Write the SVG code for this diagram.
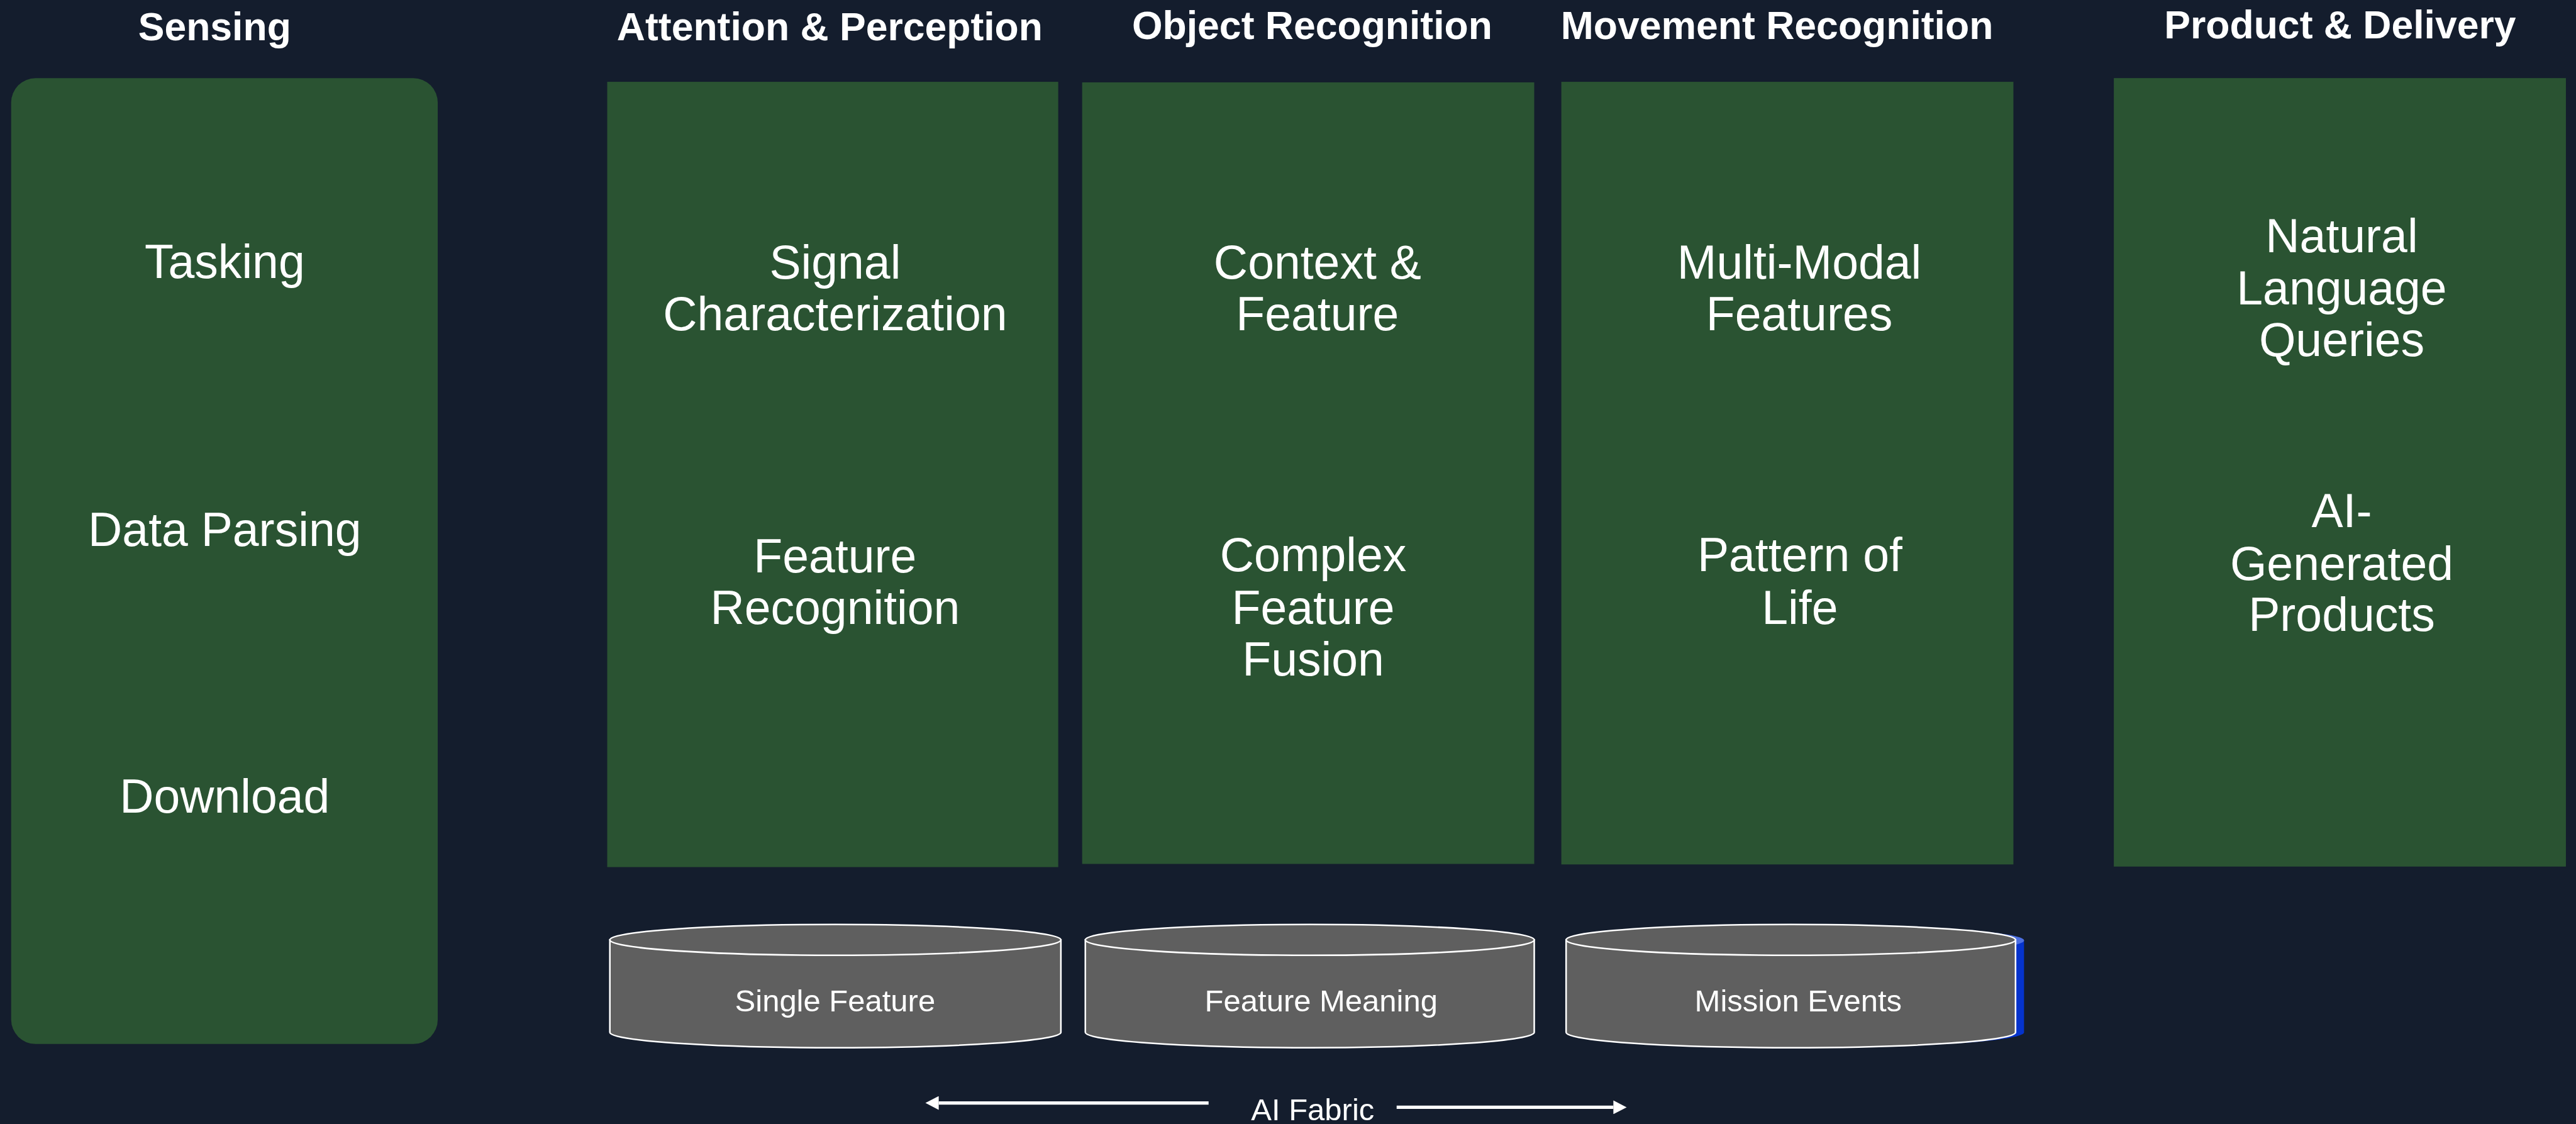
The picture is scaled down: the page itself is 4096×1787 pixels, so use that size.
<svg xmlns="http://www.w3.org/2000/svg" width="4096" height="1787" viewBox="0 0 4096 1787">
  <defs>
    <style>
      .bg { fill: #141d2d; }
      .panel { fill: #2a5332; }
      .title { font-family: "Liberation Sans", Arial, sans-serif; font-weight: bold; font-size: 74px; fill: #ffffff; text-anchor: middle; }
      .item { font-family: "Liberation Sans", Arial, sans-serif; font-size: 89px; fill: #ffffff; text-anchor: middle; }
      .store { fill: #5f5f5f; stroke: #ffffff; stroke-width: 3; }
      .store-label { font-family: "Liberation Sans", Arial, sans-serif; font-size: 58px; fill: #ffffff; text-anchor: middle; }
      .flow { stroke: #ffffff; stroke-width: 6; fill: none; }
    </style>
    <marker id="head" viewBox="0 0 25 26" refX="0" refY="13" markerWidth="25" markerHeight="26" markerUnits="userSpaceOnUse" orient="auto">
      <path d="M0,0 L25,13 L0,26 Z" fill="#ffffff"/>
    </marker>
  </defs>

  <rect class="bg" x="0" y="0" width="4096" height="1787"/>

  <g transform="scale(0.84471)">
    <!-- column headings -->
    <g id="titles">
      <text class="title" x="404" y="76">Sensing</text>
      <text class="title" x="1562" y="76">Attention &amp; Perception</text>
      <text class="title" x="2470" y="74">Object Recognition</text>
      <text class="title" x="3345" y="74">Movement Recognition</text>
      <text class="title" x="4405" y="72">Product &amp; Delivery</text>
    </g>

    <!-- Sensing -->
    <g id="sensing">
      <rect class="panel" x="21" y="147" width="803" height="1818" rx="46" ry="46"/>
      <text class="item" x="423" y="523">Tasking</text>
      <text class="item" x="423" y="1027">Data Parsing</text>
      <text class="item" x="423" y="1530">Download</text>
    </g>

    <!-- Attention & Perception -->
    <g id="attention">
      <rect class="panel" x="1143" y="154" width="849" height="1478"/>
      <text class="item" x="1572" y="525">Signal</text>
      <text class="item" x="1572" y="622">Characterization</text>
      <text class="item" x="1572" y="1077">Feature</text>
      <text class="item" x="1572" y="1174">Recognition</text>
    </g>

    <!-- Object Recognition -->
    <g id="object">
      <rect class="panel" x="2037" y="155" width="851" height="1471"/>
      <text class="item" x="2480" y="525">Context &amp;</text>
      <text class="item" x="2480" y="621">Feature</text>
      <text class="item" x="2472" y="1075">Complex</text>
      <text class="item" x="2472" y="1174">Feature</text>
      <text class="item" x="2472" y="1271">Fusion</text>
    </g>

    <!-- Movement Recognition -->
    <g id="movement">
      <rect class="panel" x="2939" y="154" width="851" height="1473"/>
      <text class="item" x="3387" y="525">Multi-Modal</text>
      <text class="item" x="3387" y="621">Features</text>
      <text class="item" x="3388" y="1075">Pattern of</text>
      <text class="item" x="3388" y="1174">Life</text>
    </g>

    <!-- Product & Delivery -->
    <g id="product">
      <rect class="panel" x="3979" y="147" width="851" height="1484"/>
      <text class="item" x="4408" y="475">Natural</text>
      <text class="item" x="4408" y="573">Language</text>
      <text class="item" x="4408" y="670">Queries</text>
      <text class="item" x="4408" y="992">AI-</text>
      <text class="item" x="4408" y="1091">Generated</text>
      <text class="item" x="4408" y="1187">Products</text>
    </g>

    <!-- data stores -->
    <g id="store-single">
      <path class="store" d="M1148,1769 V1943 A424.5,29 0 0 0 1997,1943 V1769 Z"/>
      <ellipse class="store" cx="1572.5" cy="1769" rx="424.5" ry="29"/>
      <text class="store-label" x="1572" y="1904">Single Feature</text>
    </g>

    <g id="store-meaning">
      <path class="store" d="M2043,1769 V1943 A422.5,29 0 0 0 2888,1943 V1769 Z"/>
      <ellipse class="store" cx="2465.5" cy="1769" rx="422.5" ry="29"/>
      <text class="store-label" x="2487" y="1904">Feature Meaning</text>
    </g>

    <g id="store-events">
      <!-- blue offset backing -->
      <path d="M2964,1770 V1943 A423,29 0 0 0 3810,1943 V1770 Z" fill="#0533cc"/>
      <ellipse cx="3387" cy="1770" rx="423" ry="29" fill="#4d6fe0"/>
      <path class="store" d="M2948,1769 V1943 A423,29 0 0 0 3794,1943 V1769 Z"/>
      <ellipse class="store" cx="3371" cy="1769" rx="423" ry="29"/>
      <text class="store-label" x="3385" y="1904">Mission Events</text>
    </g>

    <!-- AI fabric arrows -->
    <g id="connectors">
      <line class="flow" x1="2275" y1="2076" x2="1767" y2="2076" marker-end="url(#head)"/>
      <line class="flow" x1="2629" y1="2084" x2="3037" y2="2084" marker-end="url(#head)"/>
    </g>
    <text class="store-label" x="2471" y="2109">AI Fabric</text>
  </g>
</svg>
